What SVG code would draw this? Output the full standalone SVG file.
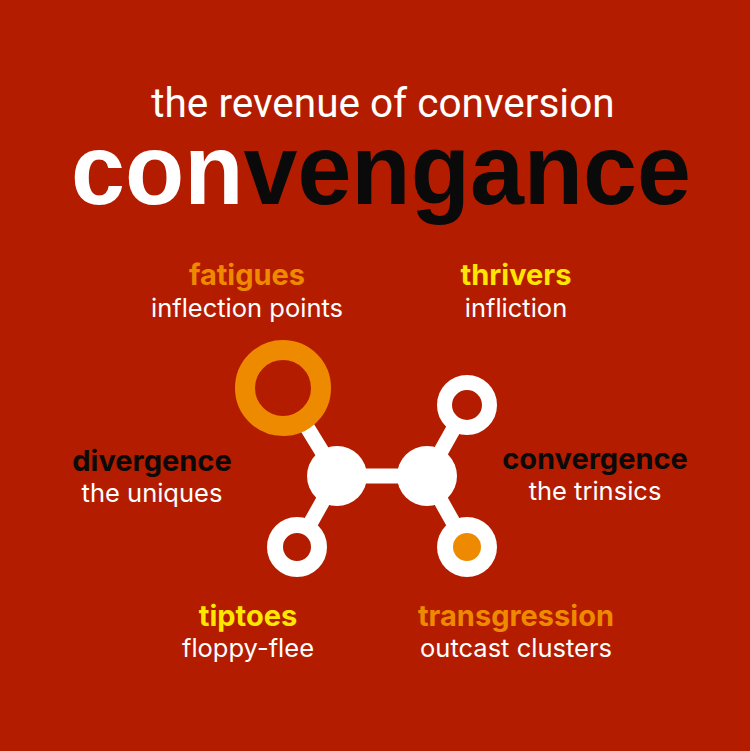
<svg xmlns="http://www.w3.org/2000/svg" width="750" height="751" viewBox="0 0 750 751">
<style>
.title{font-family:Roboto,"Liberation Sans",sans-serif;font-size:40.5px;fill:#fff;text-anchor:middle}
.big{font-family:"Liberation Sans",Arial,sans-serif;font-size:100px;font-weight:700}
.h{font-family:Inter,Roboto,"Liberation Sans",sans-serif;font-size:29px;font-weight:700;text-anchor:middle}
.s{font-family:Inter,Roboto,"Liberation Sans",sans-serif;font-size:25.5px;fill:#fff;text-anchor:middle}
.or{fill:#ee8a00}.ye{fill:#ffe600}.bk{fill:#0a0a0a}
.bond{stroke:#fff;stroke-width:15;fill:none}
</style>
<rect width="750" height="751" fill="#b41c00"/>
<text class="title" x="383" y="117">the revenue of conversion</text>
<text class="big" x="71" y="204" textLength="620" lengthAdjust="spacingAndGlyphs"><tspan fill="#fff">con</tspan><tspan fill="#0a0a0a">vengance</tspan></text>
<g id="connectors">
<line class="bond" x1="337" y1="476" x2="283" y2="388"/>
<line class="bond" x1="337" y1="476" x2="297" y2="547"/>
<line class="bond" x1="337" y1="476" x2="427" y2="476"/>
<line class="bond" x1="427" y1="476" x2="467" y2="405"/>
<line class="bond" x1="427" y1="476" x2="467" y2="547"/>
</g>
<g id="ring-orange"><circle cx="283" cy="388" r="38" fill="#b41c00" stroke="#ee8a00" stroke-width="20"/></g>
<g id="hub-left"><circle cx="337" cy="476" r="30" fill="#fff"/></g>
<g id="hub-right"><circle cx="427" cy="476" r="30" fill="#fff"/></g>
<g id="ring-top-right"><circle cx="467" cy="405" r="22.5" fill="#b41c00" stroke="#fff" stroke-width="15"/></g>
<g id="ring-bottom-left"><circle cx="297" cy="547" r="22" fill="#b41c00" stroke="#fff" stroke-width="16"/></g>
<g id="ring-bottom-right"><circle cx="467" cy="547" r="30" fill="#fff"/><circle cx="467" cy="547" r="14" fill="#ee8a00"/></g>
<g id="fatigues"><text class="h or" x="247" y="285">fatigues</text><text class="s" x="247" y="317">inflection points</text></g>
<g id="thrivers"><text class="h ye" x="516" y="285">thrivers</text><text class="s" x="516" y="317">infliction</text></g>
<g id="divergence"><text class="h bk" x="152" y="471">divergence</text><text class="s" x="152" y="502">the uniques</text></g>
<g id="convergence"><text class="h bk" x="595" y="469">convergence</text><text class="s" x="595" y="500">the trinsics</text></g>
<g id="tiptoes"><text class="h ye" x="248" y="626">tiptoes</text><text class="s" x="248" y="657">floppy-flee</text></g>
<g id="transgression"><text class="h or" x="516" y="626">transgression</text><text class="s" x="516" y="657">outcast clusters</text></g>
</svg>
